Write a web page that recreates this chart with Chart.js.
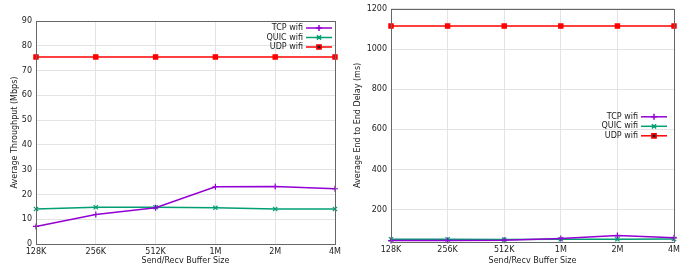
<!DOCTYPE html>
<html>
<head>
<meta charset="utf-8">
<script src="https://cdn.jsdelivr.net/npm/chart.js@4/dist/chart.umd.min.js"></script>
<style>
    html, body { margin: 0; padding: 0; background: #fff; overflow: hidden; }
    #wrap { width: 690px; height: 270px; display: flex; }
    .box { width: 345px; height: 270px; position: relative; }
    canvas { display: block; }
</style>
</head>
<body>
<div id="wrap">
    <div class="box"><canvas id="throughputChart"></canvas></div>
    <div class="box"><canvas id="delayChart"></canvas></div>
</div>
<script>
// buffer sizes on the x axis
const bufferSizes = ['128K', '256K', '512K', '1M', '2M', '4M'];

// average throughput (Mbps)
const tcpThroughput = [7.1, 11.9, 14.6, 23.1, 23.2, 22.3];
const quicThroughput = [14.1, 14.8, 14.8, 14.6, 14.1, 14.1];
const udpThroughput = [75.5, 75.5, 75.5, 75.5, 75.5, 75.5];

// average end to end delay (ms)
const tcpDelay = [47, 47, 49, 58, 72, 61];
const quicDelay = [54, 54, 52, 54, 54, 55];
const udpDelay = [1114, 1114, 1114, 1114, 1114, 1114];

// y axis ticks
const throughputTicks = [0, 10, 20, 30, 40, 50, 60, 70, 80, 90];
const delayTicks = [200, 400, 600, 800, 1000, 1200];

const seriesNames = ['TCP wifi', 'QUIC wifi', 'UDP wifi'];
const seriesColors = ['#9400d3', '#009e73', '#ff0000'];
const seriesPoints = ['cross', 'crossRot', 'rect'];

const FONT = { family: 'DejaVu Sans', size: 8 };
const TEXT = '#222';

document.addEventListener('DOMContentLoaded', function() {
    setupCharts();
});

// box around the plot area, like gnuplot's border
const borderBox = {
    id: 'borderBox',
    afterDatasetsDraw(chart) {
        const a = chart.chartArea;
        const ctx = chart.ctx;
        ctx.save();
        ctx.strokeStyle = '#666';
        ctx.lineWidth = 1;
        ctx.strokeRect(Math.round(a.left) + 0.5, Math.round(a.top) + 0.5,
            Math.round(a.right - a.left), Math.round(a.bottom - a.top));
        ctx.restore();
    }
};

// key with text first and the line sample after it
const gnuLegend = {
    id: 'gnuLegend',
    afterDraw(chart, args, opts) {
        const a = chart.chartArea;
        const ctx = chart.ctx;
        ctx.save();
        ctx.font = FONT.size + 'px ' + FONT.family;
        ctx.textAlign = 'right';
        ctx.textBaseline = 'middle';
        chart.data.datasets.forEach((ds, i) => {
            const y = a.top + opts.top + i * opts.gap;
            const xText = a.right - opts.right;
            ctx.fillStyle = TEXT;
            ctx.fillText(ds.label, xText, y);
            const x0 = xText + 3, x1 = x0 + 26;
            ctx.strokeStyle = ds.borderColor;
            ctx.lineWidth = 1.5;
            ctx.beginPath();
            ctx.moveTo(x0, y);
            ctx.lineTo(x1, y);
            ctx.stroke();
            Chart.helpers.drawPoint(ctx, {
                pointStyle: ds.pointStyle, radius: 3, borderWidth: 1.2
            }, (x0 + x1) / 2, y);
        });
        ctx.restore();
    }
};

function makeDatasets(values) {
    return values.map((v, i) => ({
        label: seriesNames[i],
        data: v,
        borderColor: seriesColors[i],
        backgroundColor: seriesColors[i],
        pointStyle: seriesPoints[i],
        pointRadius: 3,
        pointBorderWidth: 1.2,
        borderWidth: 1.5,
        tension: 0,
        clip: false
    }));
}

function makeChart(id, datasets, yOpts, layout) {
    const ctx = document.getElementById(id).getContext('2d');
    return new Chart(ctx, {
        type: 'line',
        data: { labels: bufferSizes, datasets: datasets },
        options: {
            responsive: false,
            animation: false,
            devicePixelRatio: 1,
            layout: { padding: { top: layout.top, right: layout.right, left: 0, bottom: 4 } },
            plugins: {
                legend: { display: false },
                tooltip: { enabled: false },
                gnuLegend: layout.legend
            },
            scales: {
                x: {
                    type: 'category',
                    offset: false,
                    grid: { color: '#e3e3e3', drawTicks: false },
                    border: { display: false },
                    ticks: { font: FONT, color: TEXT, padding: 3, maxRotation: 0, autoSkip: false },
                    title: {
                        display: true, text: 'Send/Recv Buffer Size',
                        font: FONT, color: TEXT, padding: { top: 0, bottom: 0 }
                    },
                    afterFit: function(scale) { scale.height = layout.xHeight; }
                },
                y: {
                    min: yOpts.min,
                    max: yOpts.max,
                    afterBuildTicks: function(scale) {
                        scale.ticks = yOpts.ticks.map(v => ({ value: v }));
                    },
                    grid: { color: '#e3e3e3', drawTicks: false },
                    border: { display: false },
                    ticks: {
                        font: FONT, color: TEXT, padding: 4,
                        callback: function(value) { return String(value); }
                    },
                    title: {
                        display: true, text: yOpts.title,
                        font: FONT, color: TEXT, padding: { top: layout.titleX, bottom: 0 }
                    },
                    afterFit: function(scale) { scale.width = layout.yWidth; }
                }
            }
        },
        plugins: [borderBox, gnuLegend]
    });
}

function setupCharts() {
    // canvas sizes fixed to the two halves of the window
    ['throughputChart', 'delayChart'].forEach(id => {
        const c = document.getElementById(id);
        c.width = 345;
        c.height = 270;
        c.style.width = '345px';
        c.style.height = '270px';
    });

    // left chart: throughput
    makeChart('throughputChart',
        makeDatasets([tcpThroughput, quicThroughput, udpThroughput]),
        { min: 0, max: 90, ticks: throughputTicks, title: 'Average Throughput (Mbps)' },
        { top: 21, right: 10, yWidth: 36, xHeight: 22, titleX: 10,
          legend: { top: 7, gap: 9.5, right: 32 } });

    // right chart: delay
    makeChart('delayChart',
        makeDatasets([tcpDelay, quicDelay, udpDelay]),
        { min: 40, max: 1200, ticks: delayTicks, title: 'Average End to End Delay (ms)' },
        { top: 7, right: 16, yWidth: 46, xHeight: 24, titleX: 8,
          legend: { top: 108, gap: 9.5, right: 36 } });
}
</script>
</body>
</html>
